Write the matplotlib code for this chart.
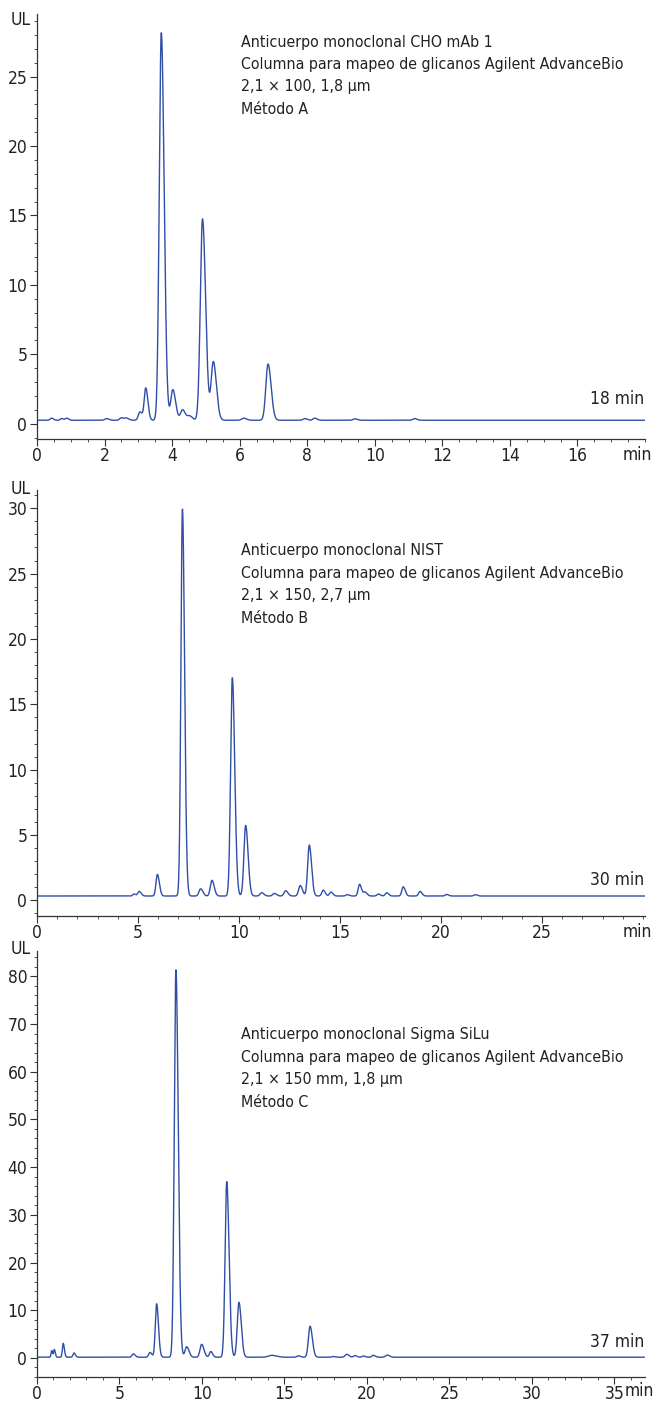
import numpy as np
import matplotlib
matplotlib.use('Agg')
import matplotlib.pyplot as plt
from matplotlib import font_manager as fm
from matplotlib.ticker import MultipleLocator

W, H = 654, 1402
LINE_COLOR = '#2f4fa6'
TEXT_COLOR = '#222222'

# pick a narrow face for the axis numbers if one is around
_fonts = fm.fontManager.ttflist
if any(f.name == 'Liberation Sans Narrow' for f in _fonts):
    TICK_FONT = dict(family='Liberation Sans Narrow')
elif any(f.name == 'DejaVu Sans' and f.stretch == 'condensed' for f in _fonts):
    TICK_FONT = dict(family='DejaVu Sans', stretch='condensed')
else:
    TICK_FONT = dict(family='Liberation Sans')

# ---- Peak tables (min, height above baseline, sigma) ----
a_times = [0.43, 0.73, 0.88, 2.06, 2.50, 2.65, 3.05, 3.22, 3.68, 4.02, 4.31, 4.52,
           4.90, 5.22, 6.12, 6.84, 7.93, 8.22, 9.41, 11.18]
a_heights = [0.15, 0.12, 0.15, 0.12, 0.18, 0.15, 0.6, 2.3, 27.9, 2.2, 0.75, 0.3,
             14.5, 4.2, 0.15, 4.05, 0.12, 0.15, 0.1, 0.12]
a_sigmas = [0.04, 0.04, 0.04, 0.05, 0.05, 0.05, 0.05, 0.045, 0.06, 0.06, 0.06, 0.06,
            0.065, 0.065, 0.06, 0.065, 0.05, 0.05, 0.05, 0.05]
a_base = 0.25

b_times = [4.80, 5.06, 5.96, 7.20, 8.10, 8.66, 9.67, 10.33, 11.12, 11.75, 12.31, 13.03,
           13.48, 14.17, 14.55, 15.36, 15.97, 16.24, 16.90, 17.31, 18.13, 18.96, 20.28, 21.70]
b_heights = [0.15, 0.35, 1.65, 29.6, 0.55, 1.2, 16.7, 5.4, 0.25, 0.2, 0.4, 0.8,
             3.9, 0.45, 0.3, 0.1, 0.9, 0.3, 0.15, 0.25, 0.7, 0.35, 0.12, 0.1]
b_sigmas = [0.06, 0.07, 0.07, 0.075, 0.08, 0.08, 0.085, 0.085, 0.08, 0.08, 0.08, 0.08,
            0.08, 0.07, 0.07, 0.07, 0.07, 0.07, 0.07, 0.07, 0.07, 0.07, 0.07, 0.07]
b_base = 0.33

c_times = [0.89, 1.05, 1.59, 2.24, 5.84, 6.85, 7.25, 8.42, 9.07, 9.98, 10.53, 11.50,
           12.24, 14.22, 15.84, 16.55, 17.96, 18.77, 19.27, 19.78, 20.38, 21.23]
c_heights = [1.4, 1.6, 2.9, 0.9, 0.7, 1.0, 11.2, 81.2, 2.2, 2.7, 1.2, 36.8,
             11.5, 0.4, 0.3, 6.5, 0.15, 0.6, 0.35, 0.25, 0.4, 0.45]
c_sigmas = [0.04, 0.04, 0.05, 0.06, 0.08, 0.08, 0.08, 0.1, 0.1, 0.1, 0.08, 0.1,
            0.1, 0.2, 0.08, 0.1, 0.08, 0.1, 0.08, 0.08, 0.08, 0.1]
c_base = 0.15

labels_a = ['Anticuerpo monoclonal CHO mAb 1',
            'Columna para mapeo de glicanos Agilent AdvanceBio',
            '2,1 × 100, 1,8 µm', 'Método A']
labels_b = ['Anticuerpo monoclonal NIST',
            'Columna para mapeo de glicanos Agilent AdvanceBio',
            '2,1 × 150, 2,7 µm', 'Método B']
labels_c = ['Anticuerpo monoclonal Sigma SiLu',
            'Columna para mapeo de glicanos Agilent AdvanceBio',
            '2,1 × 150 mm, 1,8 µm', 'Método C']
run_times = ['18 min', '30 min', '37 min']


def trace(t, times, heights, sigmas, base, tail=1.4):
    y = np.full_like(t, base)
    for t0, h, s in zip(times, heights, sigmas):
        sig = np.where(t < t0, s, s * tail)
        y += h * np.exp(-0.5 * ((t - t0) / sig) ** 2)
    return y


def fx(px):
    return px / W


def fy(py):
    return 1 - py / H


fig = plt.figure(figsize=(W / 100, H / 100), dpi=100)

panels = [
    dict(top=14, bot=439, xmax=18.0, ylim=(-1.1, 29.5), xmaj=2, xmin=0.5, ymaj=5, ymin=1,
         data=(a_times, a_heights, a_sigmas, a_base), labels=labels_a, text_y=42,
         rt_y=399, ul_y=20),
    dict(top=490, bot=916, xmax=30.1, ylim=(-1.2, 31.4), xmaj=5, xmin=1, ymaj=5, ymin=1,
         data=(b_times, b_heights, b_sigmas, b_base), labels=labels_b, text_y=551,
         rt_y=880, ul_y=489),
    dict(top=951, bot=1377, xmax=36.85, ylim=(-4.0, 85.3), xmaj=5, xmin=1, ymaj=10, ymin=2,
         data=(c_times, c_heights, c_sigmas, c_base), labels=labels_c, text_y=1035,
         rt_y=1342, ul_y=949),
]

FS = 12.5
for i, p in enumerate(panels):
    ax = fig.add_axes([fx(37), fy(p['bot']), fx(645) - fx(37), (p['bot'] - p['top']) / H])
    t = np.linspace(0, p['xmax'], 6000)
    ax.plot(t, trace(t, *p['data']), color=LINE_COLOR, lw=1.0)
    ax.set_xlim(0, p['xmax'])
    ax.set_ylim(*p['ylim'])
    for s in ['top', 'right']:
        ax.spines[s].set_visible(False)
    for s in ['left', 'bottom']:
        ax.spines[s].set_color('#333333')
        ax.spines[s].set_linewidth(0.9)
    ax.xaxis.set_major_locator(MultipleLocator(p['xmaj']))
    ax.xaxis.set_minor_locator(MultipleLocator(p['xmin']))
    ax.yaxis.set_major_locator(MultipleLocator(p['ymaj']))
    ax.yaxis.set_minor_locator(MultipleLocator(p['ymin']))
    ax.tick_params(which='major', length=5, width=0.8, color='#333333',
                   labelsize=FS, labelcolor=TEXT_COLOR)
    ax.tick_params(axis='x', which='major', pad=1)
    ax.tick_params(axis='y', which='major', pad=2)
    ax.tick_params(which='minor', length=2.5, width=0.6, color='#333333')

    if i == 2:
        ticks = list(range(0, 36, 5))
        fig.text(fx(625), fy(1391), 'min', fontsize=FS, color=TEXT_COLOR,
                 ha='left', va='center', **TICK_FONT)
    else:
        ticks = [v for v in np.arange(0, p['xmax'] + 1e-6, p['xmaj'])
                 if v <= p['xmax'] - p['xmaj'] * 0.6]
        fig.text(fx(637), fy(p['bot'] + 16), 'min', fontsize=FS, color=TEXT_COLOR,
                 ha='center', va='center', **TICK_FONT)
    ax.set_xticks(ticks)
    ax.set_xticklabels([f'{v:g}' for v in ticks])
    for lab in ax.get_xticklabels() + ax.get_yticklabels():
        lab.set_fontfamily(TICK_FONT['family'])
        if 'stretch' in TICK_FONT:
            lab.set_fontstretch(TICK_FONT['stretch'])

    fig.text(fx(31), fy(p['ul_y']), 'UL', fontsize=FS, color=TEXT_COLOR,
             ha='right', va='center', **TICK_FONT)
    for k, line in enumerate(p['labels']):
        fig.text(fx(241), fy(p['text_y'] + 22.4 * k), line, fontsize=11.4,
                 color=TEXT_COLOR, ha='left', va='center', **TICK_FONT)
    fig.text(fx(644), fy(p['rt_y']), run_times[i], fontsize=FS, color=TEXT_COLOR,
             ha='right', va='center', **TICK_FONT)

fig.savefig('out.png', dpi=100)
